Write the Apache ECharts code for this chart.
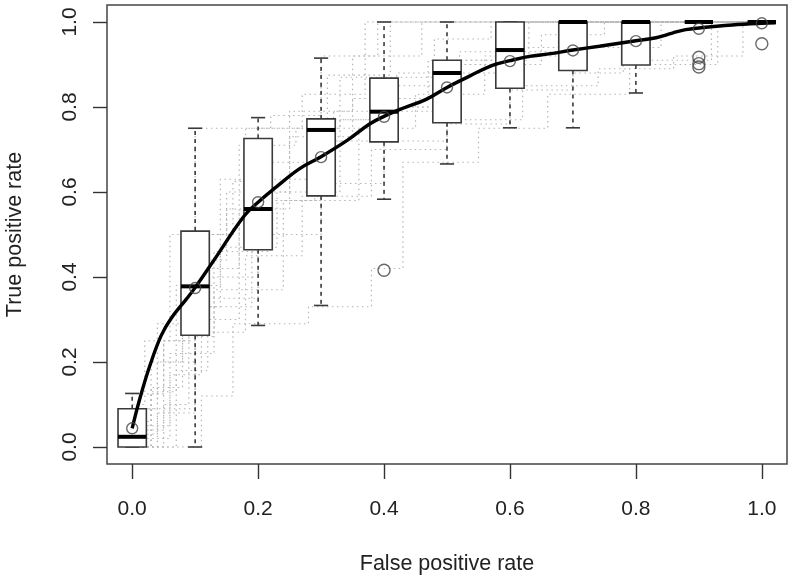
<!DOCTYPE html>
<html>
<head>
<meta charset="utf-8">
<script src="https://cdn.jsdelivr.net/npm/echarts@6/dist/echarts.min.js"></script>
<style>html,body{margin:0;padding:0;background:#fff}#c{width:795px;height:577px}</style>
</head>
<body>
<div id="c"></div>
<script>
// ---- data ----
const tickValues = [0, 0.2, 0.4, 0.6, 0.8, 1.0];
const tickLabels = ['0.0', '0.2', '0.4', '0.6', '0.8', '1.0'];

const boxX        = [0, 0.1, 0.2, 0.3, 0.4, 0.5, 0.6, 0.7, 0.8, 0.9, 1.0];
const whiskerLow  = [0, 0, 0.286, 0.333, 0.583, 0.666, 0.751, 0.751, 0.833, 1, 1];
const q1          = [0, 0.263, 0.464, 0.591, 0.718, 0.763, 0.844, 0.886, 0.899, 1, 1];
const medians     = [0.024, 0.378, 0.560, 0.746, 0.789, 0.880, 0.934, 1, 1, 1, 1];
const q3          = [0.090, 0.508, 0.726, 0.772, 0.868, 0.910, 1, 1, 1, 1, 1];
const whiskerHigh = [0.126, 0.750, 0.775, 0.915, 1, 1, 1, 1, 1, 1, 1];
const boxMeans    = [0.044, 0.374, 0.576, 0.682, 0.777, 0.846, 0.908, 0.933, 0.955, 0.984, 0.997];

const outlierX = [0.4, 0.9, 0.9, 0.9, 1.0];
const outlierY = [0.416, 0.917, 0.902, 0.894, 0.949];

const meanCurveX = [0, 0.012, 0.028, 0.046, 0.062, 0.086, 0.1, 0.131, 0.176, 0.2, 0.229, 0.266, 0.3, 0.342, 0.377, 0.4, 0.43, 0.467, 0.5, 0.535, 0.572, 0.6, 0.631, 0.662, 0.7, 0.742, 0.8, 0.832, 0.858, 0.879, 0.9, 0.953, 1.0, 1.022];
const meanCurveY = [0.044, 0.113, 0.191, 0.262, 0.303, 0.348, 0.375, 0.442, 0.540, 0.576, 0.612, 0.655, 0.683, 0.722, 0.760, 0.778, 0.797, 0.818, 0.846, 0.872, 0.898, 0.909, 0.919, 0.925, 0.934, 0.943, 0.956, 0.963, 0.974, 0.982, 0.986, 0.993, 0.997, 0.998];

// individual (fold) ROC step curves, [fpr, tpr] where tpr holds from that fpr on
const roc1  = [[0,0],[0.03,0.13],[0.07,0.38],[0.14,0.63],[0.18,0.75],[0.27,0.83],[0.37,1],[1,1]];
const roc2  = [[0,0.04],[0.05,0.25],[0.09,0.5],[0.15,0.6],[0.25,0.79],[0.35,0.92],[0.46,1],[1,1]];
const roc3  = [[0,0],[0.02,0.09],[0.1,0.26],[0.13,0.46],[0.22,0.58],[0.29,0.72],[0.41,0.8],[0.52,0.91],[0.63,1],[1,1]];
const roc4  = [[0,0.09],[0.04,0.29],[0.08,0.42],[0.17,0.71],[0.26,0.75],[0.33,0.87],[0.48,0.96],[0.57,1],[1,1]];
const roc5  = [[0,0.02],[0.06,0.17],[0.11,0.33],[0.19,0.5],[0.24,0.58],[0.36,0.75],[0.45,0.83],[0.56,0.92],[0.68,1],[1,1]];
const roc6  = [[0,0],[0.11,0.12],[0.16,0.29],[0.28,0.33],[0.38,0.42],[0.43,0.67],[0.55,0.75],[0.66,0.83],[0.79,0.9],[0.93,1],[1,1]];
const roc7  = [[0,0.125],[0.05,0.25],[0.1,0.5],[0.16,0.625],[0.2,0.75],[0.31,0.875],[0.41,1],[1,1]];
const roc8  = [[0,0.03],[0.04,0.2],[0.08,0.33],[0.14,0.47],[0.23,0.6],[0.33,0.77],[0.39,0.85],[0.52,0.93],[0.71,1],[1,1]];
const roc9  = [[0,0],[0.05,0.1],[0.09,0.3],[0.17,0.55],[0.21,0.67],[0.32,0.79],[0.42,0.88],[0.6,0.94],[0.84,1],[1,1]];
const roc10 = [[0,0.06],[0.03,0.2],[0.1,0.44],[0.15,0.56],[0.25,0.73],[0.35,0.82],[0.47,0.91],[0.58,1],[1,1]];
const roc11 = [[0,0],[0.07,0.18],[0.12,0.27],[0.18,0.45],[0.27,0.59],[0.38,0.7],[0.5,0.77],[0.62,0.85],[0.74,0.89],[0.86,0.92],[0.97,1],[1,1]];
const roc12 = [[0,0.1],[0.02,0.25],[0.06,0.5],[0.1,0.75],[0.22,0.78],[0.3,0.92],[0.39,1],[1,1]];
const roc13 = [[0,0],[0.04,0.08],[0.1,0.35],[0.2,0.58],[0.3,0.75],[0.4,0.79],[0.5,0.9],[0.6,1],[1,1]];
const roc14 = [[0,0.05],[0.06,0.22],[0.13,0.37],[0.24,0.5],[0.3,0.62],[0.4,0.72],[0.5,0.76],[0.6,0.84],[0.7,0.88],[0.78,0.91],[0.92,1],[1,1]];
const roc15 = [[0,0],[0.03,0.14],[0.08,0.27],[0.12,0.4],[0.2,0.63],[0.28,0.77],[0.4,0.8],[0.49,0.9],[0.65,0.97],[0.75,1],[1,1]];
const rocCurves = [roc1, roc2, roc3, roc4, roc5, roc6, roc7, roc8, roc9, roc10, roc11, roc12, roc13, roc14, roc15];

// ---- chart ----
const FONT = 'Liberation Sans, Arial, sans-serif';
const chart = echarts.init(document.getElementById('c'), null, {renderer: 'canvas'});

const boxData = boxX.map((x, i) => [x, whiskerLow[i], q1[i], medians[i], q3[i], whiskerHigh[i]]);
const BOX_W = 0.045;

function renderBox(params, api) {
  const x = api.value(0);
  const lo = api.coord([x, api.value(1)]);
  const b1 = api.coord([x, api.value(2)]);
  const md = api.coord([x, api.value(3)]);
  const b3 = api.coord([x, api.value(4)]);
  const hi = api.coord([x, api.value(5)]);
  const hw = api.size([BOX_W, 0])[0] / 2;
  const cw = hw / 2;
  const cx = lo[0];
  const stroke = '#3a3a3a';
  const dash = {stroke: stroke, lineWidth: 1.6, lineDash: [4, 4]};
  const solid = {stroke: stroke, lineWidth: 1.6};
  return {
    type: 'group',
    children: [
      {type: 'line', shape: {x1: cx, y1: b3[1], x2: cx, y2: hi[1]}, style: dash},
      {type: 'line', shape: {x1: cx, y1: b1[1], x2: cx, y2: lo[1]}, style: dash},
      {type: 'line', shape: {x1: cx - cw, y1: hi[1], x2: cx + cw, y2: hi[1]}, style: solid},
      {type: 'line', shape: {x1: cx - cw, y1: lo[1], x2: cx + cw, y2: lo[1]}, style: solid},
      {type: 'rect', shape: {x: cx - hw, y: b3[1], width: 2 * hw, height: b1[1] - b3[1]}, style: {fill: '#fff', stroke: stroke, lineWidth: 1.6}},
      {type: 'line', shape: {x1: cx - hw, y1: md[1], x2: cx + hw, y2: md[1]}, style: {stroke: '#000', lineWidth: 4}}
    ]
  };
}

const series = [];
rocCurves.forEach((c, k) => {
  series.push({
    type: 'line', name: 'fold' + (k + 1), data: c, step: 'end', symbol: 'none', silent: true,
    lineStyle: {color: '#b4b4b4', width: 1.2, type: [1.5, 3.5]}, z: 1
  });
});
series.push({type: 'custom', name: 'box', data: boxData, renderItem: renderBox, z: 3, encode: {x: 0, y: [1, 2, 3, 4, 5]}});
series.push({
  type: 'line', name: 'mean', data: meanCurveX.map((x, i) => [x, meanCurveY[i]]), smooth: 0.4, symbol: 'none',
  lineStyle: {color: '#000', width: 3.4}, z: 4
});
series.push({
  type: 'scatter', name: 'means', data: boxX.map((x, i) => [x, boxMeans[i]]), symbol: 'circle', symbolSize: 11,
  itemStyle: {color: 'rgba(0,0,0,0)', borderColor: '#444', borderWidth: 1.4}, z: 5
});
series.push({
  type: 'scatter', name: 'outliers', data: outlierX.map((x, i) => [x, outlierY[i]]), symbol: 'circle', symbolSize: 12,
  itemStyle: {color: 'rgba(0,0,0,0)', borderColor: '#444', borderWidth: 1.4}, z: 5
});

const fmt = v => { const i = tickValues.findIndex(t => Math.abs(t - v) < 1e-9); return i >= 0 ? tickLabels[i] : ''; };

chart.setOption({
  animation: false,
  backgroundColor: '#fff',
  grid: {left: 107, top: 5, width: 680, height: 459, show: true, borderColor: '#444', borderWidth: 1.5, containLabel: false, outerBoundsMode: 'none'},
  xAxis: {
    type: 'value', min: -0.04, max: 1.04,
    axisLine: {show: false, onZero: false},
    axisTick: {show: true, customValues: tickValues, length: 15, inside: false, lineStyle: {color: '#333', width: 1.4}},
    axisLabel: {customValues: tickValues, formatter: fmt, fontSize: 21, color: '#222', fontFamily: FONT, margin: 35},
    splitLine: {show: false},
    name: 'False positive rate', nameLocation: 'middle', nameGap: 89,
    nameTextStyle: {fontSize: 21.5, color: '#222', fontFamily: FONT}
  },
  yAxis: {
    type: 'value', min: -0.04, max: 1.04,
    axisLine: {show: false, onZero: false},
    axisTick: {show: true, customValues: tickValues, length: 14, inside: false, lineStyle: {color: '#333', width: 1.4}},
    axisLabel: {customValues: tickValues, formatter: fmt, fontSize: 21, color: '#222', fontFamily: FONT, margin: 26, rotate: 90},
    splitLine: {show: false},
    name: 'True positive rate', nameLocation: 'middle', nameGap: 81, nameRotate: 90,
    nameTextStyle: {fontSize: 21.5, color: '#222', fontFamily: FONT}
  },
  series: series
});
</script>
</body>
</html>
